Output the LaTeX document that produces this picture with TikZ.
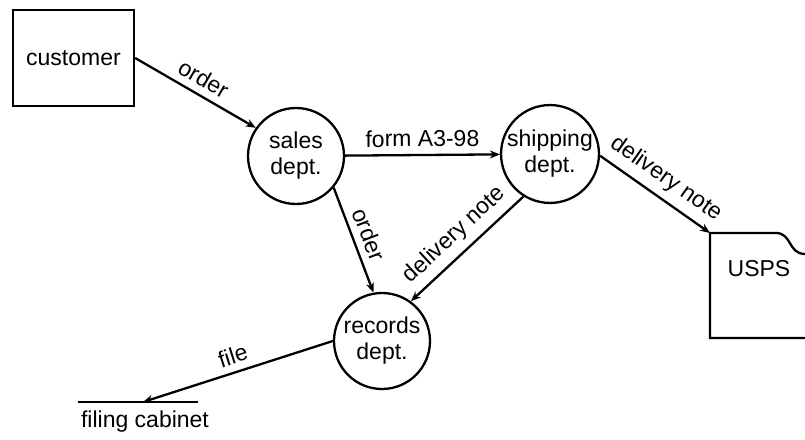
\documentclass[tikz,border=0pt]{standalone}
\usepackage{fontspec}
\setmainfont{Liberation Sans}
\usetikzlibrary{arrows.meta}
\begin{document}
\begin{tikzpicture}[x=1pt,y=-1pt,
  every node/.style={font=\fontsize{23}{26}\selectfont},
  proc/.style={draw,line width=2.3pt,circle,minimum size=96pt,inner sep=0pt,align=center},
  ent/.style={draw,line width=2.3pt,minimum width=121pt,minimum height=96pt,inner sep=0pt},
  flow/.style={line width=2.3pt,-{Stealth[length=10pt,width=8pt]}},
  lbl/.style={sloped,above,inner sep=7pt}]
\useasboundingbox (0,0) rectangle (805,439);
\node[ent] (cust) at (73.5,58) {customer};
\node[proc] (sales) at (296,156) {sales\\dept.};
\node[proc] (ship) at (550,154) {shipping\\dept.};
\node[proc] (rec) at (382,341) {records\\dept.};
% USPS external entity
\draw[line width=2.3pt] (830,338) -- (710,338) -- (710,233) -- (776,233)
  .. controls (792,233) and (788,254) .. (805,254) -- (830,254);
\coordinate (usps) at (710,233);
\node (uspst) at (759,269) {USPS};
% filing cabinet data store
\draw[line width=2.3pt] (78,402) -- (198,402);
\coordinate (cab) at (143,402);
\node (fct) at (145,422) {filing cabinet};
% flows
\draw[flow] (cust.east) -- node[lbl] {order} (sales.145);
\draw[flow] (sales) -- node[lbl] {form A3-98} (ship);
\draw[flow] (sales.-40) -- node[lbl] {order} (rec.100);
\draw[flow] (ship.-122) -- node[lbl] {delivery note} (rec.54);
\draw[flow] (ship.-2) -- node[lbl] {delivery note} (usps);
\draw[flow] (rec.west) -- node[lbl] {file} (cab);
\end{tikzpicture}
\end{document}
